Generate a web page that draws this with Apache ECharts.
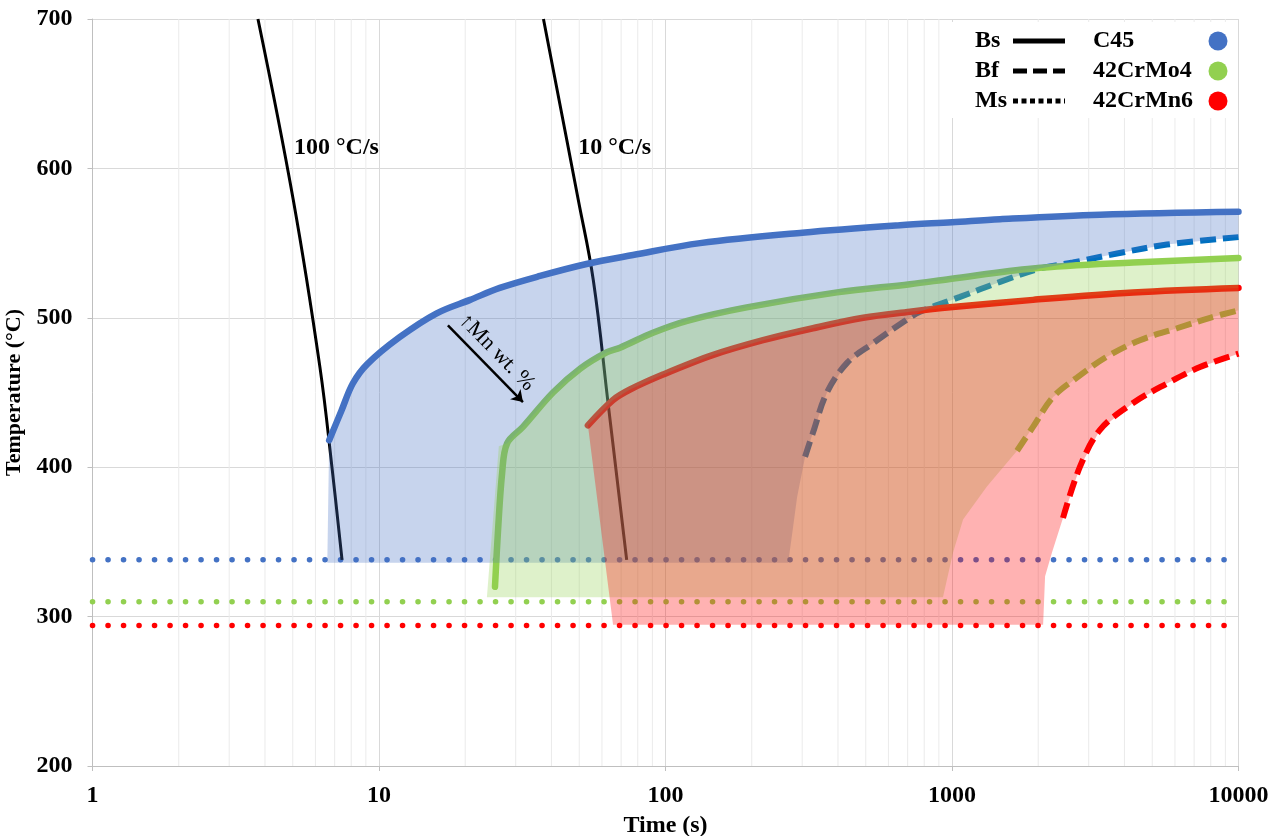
<!DOCTYPE html>
<html>
<head>
<meta charset="utf-8">
<script src="https://cdn.jsdelivr.net/npm/echarts@6/dist/echarts.min.js"></script>
<style>
html,body{margin:0;padding:0;background:#fff;}
#chart{width:1277px;height:836px;}
</style>
</head>
<body>
<div id="chart"></div>
<script>
// Axis tick labels
const timeTicks = ['1', '10', '100', '1000', '10000'];
const tempTicks = ['200', '300', '400', '500', '600', '700'];
// Minor (2..9 per decade) time gridlines
const minorTimes = [2,3,4,5,6,7,8,9, 20,30,40,50,60,70,80,90, 200,300,400,500,600,700,800,900, 2000,3000,4000,5000,6000,7000,8000,9000];

// Steel grades and curve kinds
const steels = ['C45', '42CrMo4', '42CrMn6'];
const kinds = ['Bs', 'Bf', 'Ms'];

// C45: [time s, temperature °C]
const c45Bs = [[6.7,418],[7.4,438],[8.1,456],[9.1,469],[11.8,487],[15.9,503],[20.8,512],[26.4,520],[36.5,528],[53,536],[77,542],[132,550],[300,557],[658,562],[1000,564],[1471,566],[3285,569],[10000,571]];
const c45Bf = [[307,407],[327,423],[366,450],[431,470],[530,483],[674,497],[773,504],[1067,514],[1471,524],[2029,533],[2642,537],[3767,543],[5628,549],[10000,554]];
const c45Ms = [[1,338],[10000,338]];
const c45RegionLead = [[6.6,336]];
const c45RegionTail = [[288,380],[277,356],[268,336]];

// 42CrMo4
const moBs = [[25.4,320],[26.0,356],[26.9,396],[28.0,416],[31.8,427],[40.5,450],[50.4,466],[62.5,477],[69.4,480],[90.4,490],[119,498],[192,507],[397,517],[713,522.5],[984,526],[1918,533],[4285,537],[10000,540]];
const moBf = [[1687,411],[1918,427],[2254,447],[2729,460],[3475,474],[4531,485],[6099,493],[7956,500],[10000,505]];
const moMs = [[1,310],[10000,310]];
const moRegionLead = [[23.8,313],[26.2,414]];
const moRegionTail = [[1324,387],[1093,365],[1009,343],[930,313]];

// 42CrMn6
const mnBs = [[53.6,428],[65.6,445],[75.2,452],[98,462],[146,475],[219,485],[327,493],[490,500],[713,504],[984,507],[1918,512],[4285,517],[10000,520]];
const mnBf = [[2440,366],[2793,400],[3285,425],[4285,443],[5628,456],[7341,467],[10000,476]];
const mnMs = [[1,294],[10000,294]];
const mnRegionLead = [[65.6,294.5]];
const mnRegionTail = [[2235,343],[2113,327],[2080,294.5]];

// Cooling curves
const cool100 = [[3.78,700],[5.02,579],[6.22,467],[6.87,398],[7.43,338]];
const cool10 = [[37.5,700],[49.6,579],[56,525],[63.2,441],[73.2,338]];
const rateLabels = ['100 °C/s', '10 °C/s'];
const rateLabelAt = [[5.05,614],[49.6,614]];

// Manganese trend arrow
const mnArrow = [[17.4,495],[31.8,443.6]];
const mnArrowText = '↑Mn wt. %';

const SERIF = '"Liberation Serif", "Times New Roman", serif';
const lineCol = { C45: '#4472C4', C45Bf: '#0070C0', Mo: '#92D050', Mn: '#FF0000' };
const steelColors = ['#4472C4', '#92D050', '#FF0000'];
const regionFills = ['rgba(68,114,196,0.3)', 'rgba(146,208,80,0.3)', 'rgba(255,0,0,0.3)'];

// Transformation regions: lead edge + Bs + reversed Bf + tail edge down to Ms
const c45Region = [...c45RegionLead, ...c45Bs, ...c45Bf.slice().reverse(), ...c45RegionTail];
const moRegion = [...moRegionLead, ...moBs.slice(3), ...moBf.slice().reverse(), ...moRegionTail];
const mnRegion = [...mnRegionLead, ...mnBs, ...mnBf.slice().reverse(), ...mnRegionTail];

function curve(name, data, color, width, type, cap, smooth) {
  return {
    type: 'line', name, data, symbol: 'none', showSymbol: false,
    smooth: smooth, z: 2, silent: true, animation: false,
    lineStyle: { color, width, type, cap }
  };
}

function region(name, pts, fill) {
  return {
    type: 'custom', name, z: 3, silent: true, animation: false,
    data: [pts[0]],
    renderItem: (params, api) => ({
      type: 'polygon',
      shape: { points: pts.map(p => api.coord(p)) },
      style: { fill: fill, stroke: null }
    })
  };
}

const dash = [16, 7];
const dots = [0.1, 15.4];

const series = [
  {
    // light minor gridlines between decades
    type: 'custom', name: 'minor-grid', z: 1, silent: true, animation: false,
    data: minorTimes.map(v => [v, 200]),
    renderItem: (params, api) => {
      const v = api.value(0);
      const a = api.coord([v, 200]);
      const b = api.coord([v, 700]);
      return { type: 'line', shape: { x1: a[0], y1: a[1], x2: b[0], y2: b[1] },
        style: { stroke: '#EBEBEB', lineWidth: 1 } };
    }
  },
  curve('Ms C45', c45Ms, lineCol.C45, 5.5, dots, 'round', false),
  curve('Ms 42CrMo4', moMs, lineCol.Mo, 5.5, dots, 'round', false),
  curve('Ms 42CrMn6', mnMs, lineCol.Mn, 5.5, dots, 'round', false),
  Object.assign(curve('100 °C/s', cool100, '#000', 3, 'solid', 'butt', 0.4), {
    markPoint: {
      silent: true, animation: false, symbol: 'circle', symbolSize: 0,
      label: { show: true, position: 'right', distance: 0, formatter: rateLabels[0],
        fontFamily: SERIF, fontWeight: 'bold', fontSize: 24, color: '#000' },
      data: [{ coord: rateLabelAt[0] }]
    }
  }),
  Object.assign(curve('10 °C/s', cool10, '#000', 3, 'solid', 'butt', 0.4), {
    markPoint: {
      silent: true, animation: false, symbol: 'circle', symbolSize: 0,
      label: { show: true, position: 'right', distance: 0, formatter: rateLabels[1],
        fontFamily: SERIF, fontWeight: 'bold', fontSize: 24, color: '#000' },
      data: [{ coord: rateLabelAt[1] }]
    }
  }),
  curve('Bs C45', c45Bs, lineCol.C45, 6.5, 'solid', 'round', 0.35),
  curve('Bf C45', c45Bf, lineCol.C45Bf, 6, dash, 'butt', 0.35),
  curve('Bs 42CrMo4', moBs, lineCol.Mo, 6.5, 'solid', 'round', 0.35),
  curve('Bf 42CrMo4', moBf, lineCol.Mo, 6, dash, 'butt', 0.35),
  curve('Bs 42CrMn6', mnBs, lineCol.Mn, 6.5, 'solid', 'round', 0.35),
  curve('Bf 42CrMn6', mnBf, lineCol.Mn, 6, dash, 'butt', 0.35),
  region('C45 region', c45Region, regionFills[0]),
  region('42CrMo4 region', moRegion, regionFills[1]),
  region('42CrMn6 region', mnRegion, regionFills[2]),
  {
    type: 'line', name: 'Mn trend', data: [], z: 10, silent: true, animation: false,
    markLine: {
      silent: true, animation: false, symbol: ['none', 'arrow'], symbolSize: 11,
      lineStyle: { color: '#000', width: 2.5, type: 'solid' },
      label: { show: true, position: 'middle', formatter: mnArrowText, distance: 5,
        fontFamily: SERIF, fontSize: 22, color: '#000' },
      data: [[{ coord: mnArrow[0] }, { coord: mnArrow[1] }]]
    }
  }
];

// Legend block (top right)
const legendRows = [41, 71, 101];
const graphic = [{
  type: 'rect', z: 100, silent: true,
  shape: { x: 944, y: 22, width: 292, height: 96 },
  style: { fill: '#fff' }
}];
kinds.forEach((k, i) => {
  const y = legendRows[i];
  graphic.push({ type: 'text', z: 101, silent: true, x: 975, y: y,
    style: { text: k, fontFamily: SERIF, fontWeight: 'bold', fontSize: 24, fill: '#000', verticalAlign: 'middle', align: 'left' } });
  const lineDash = i === 0 ? null : (i === 1 ? [14, 6] : [5, 3.5]);
  graphic.push({ type: 'line', z: 101, silent: true,
    shape: { x1: 1013, y1: y, x2: 1065, y2: y },
    style: { stroke: '#000', lineWidth: 5, lineDash: lineDash } });
  graphic.push({ type: 'text', z: 101, silent: true, x: 1093, y: y,
    style: { text: steels[i], fontFamily: SERIF, fontWeight: 'bold', fontSize: 24, fill: '#000', verticalAlign: 'middle', align: 'left' } });
  graphic.push({ type: 'circle', z: 101, silent: true,
    shape: { cx: 1218, cy: y, r: 9.5 }, style: { fill: steelColors[i] } });
});

const chart = echarts.init(document.getElementById('chart'), null, { renderer: 'canvas' });
chart.setOption({
  animation: false,
  backgroundColor: '#fff',
  grid: { left: 92.5, right: 38.5, top: 19, bottom: 70, outerBoundsMode: 'none' },
  xAxis: {
    type: 'log', logBase: 10, min: 1, max: 10000,
    name: 'Time (s)', nameLocation: 'middle', nameGap: 48,
    nameTextStyle: { fontFamily: SERIF, fontWeight: 'bold', fontSize: 24, color: '#000' },
    axisLine: { show: true, lineStyle: { color: '#BFBFBF', width: 1 } },
    axisTick: { show: true, length: 5, lineStyle: { color: '#BFBFBF' } },
    splitLine: { show: true, lineStyle: { color: '#D9D9D9', width: 1 } },
    minorTick: { show: false }, minorSplitLine: { show: false },
    axisLabel: {
      margin: 18, fontFamily: SERIF, fontWeight: 'bold', fontSize: 24, color: '#000',
      formatter: v => timeTicks[Math.round(Math.log10(v))]
    }
  },
  yAxis: {
    type: 'value', min: 200, max: 700, interval: 100,
    name: 'Temperature (°C)', nameLocation: 'middle', nameGap: 62, nameRotate: 90,
    nameTextStyle: { fontFamily: SERIF, fontWeight: 'bold', fontSize: 22, color: '#000' },
    axisLine: { show: true, lineStyle: { color: '#BFBFBF', width: 1 } },
    axisTick: { show: true, length: 5, lineStyle: { color: '#BFBFBF' } },
    splitLine: { show: true, lineStyle: { color: '#D9D9D9', width: 1 } },
    axisLabel: {
      margin: 20, fontFamily: SERIF, fontWeight: 'bold', fontSize: 24, color: '#000',
      formatter: v => tempTicks[Math.round((v - 200) / 100)]
    }
  },
  series: series,
  graphic: graphic
});
</script>
</body>
</html>
